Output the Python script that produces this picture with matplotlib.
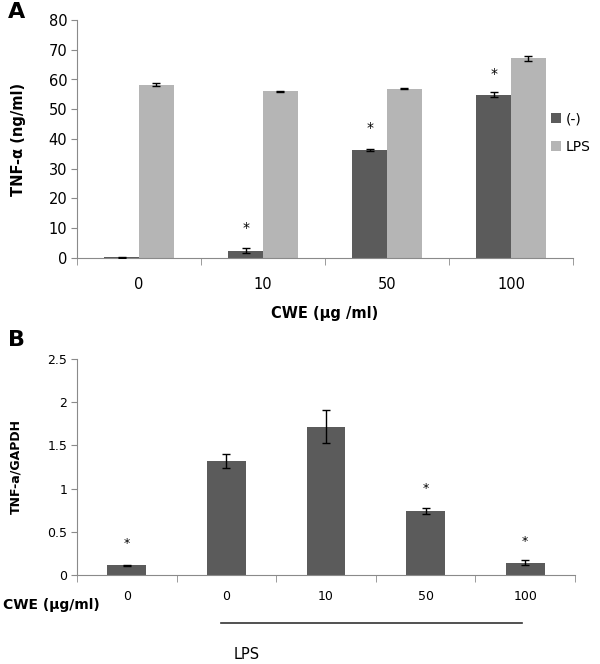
import matplotlib
matplotlib.use("Agg")
import matplotlib.pyplot as plt
import matplotlib.transforms as mtransforms
from matplotlib.lines import Line2D
import numpy as np

plt.rcParams['font.family'] = ['DejaVu Sans']

# Panel A data
a_categories = ["0", "10", "50", "100"]
a_neg = [0.3, 2.5, 36.4, 54.9]
a_neg_err = [0.2, 0.8, 0.4, 0.8]
a_lps = [58.3, 56.0, 56.9, 67.1]
a_lps_err = [0.6, 0.2, 0.2, 0.8]
a_star_idx = [1, 2, 3]
a_star_y = [10.0, 43.7, 62.0]

# Panel B data
b_categories = ["0", "0", "10", "50", "100"]
b_vals = [0.11, 1.32, 1.715, 0.74, 0.14]
b_err = [0.01, 0.08, 0.19, 0.03, 0.03]
b_star_idx = [0, 3, 4]
b_star_y = [0.37, 1.0, 0.39]

dark = "#5b5b5b"
light = "#b5b5b5"
axcol = "#8a8a8a"

fig = plt.figure(figsize=(6.0, 6.64), dpi=100)

# ---------- Panel A ----------
axA = fig.add_axes([77/600, 1-258/664, (573-77)/600, (258-20)/664])
x = np.arange(len(a_categories))
w = 0.28
axA.bar(x - w/2, a_neg, w, color=dark, label="(-)", zorder=2)
axA.bar(x + w/2, a_lps, w, color=light, label="LPS", zorder=2)
axA.errorbar(x - w/2, a_neg, yerr=a_neg_err, fmt='none', ecolor='black',
             elinewidth=1, capsize=3, capthick=1, zorder=3)
axA.errorbar(x + w/2, a_lps, yerr=a_lps_err, fmt='none', ecolor='black',
             elinewidth=1, capsize=3, capthick=1, zorder=3)
for i, yv in zip(a_star_idx, a_star_y):
    axA.text(i - w/2, yv, "*", ha='center', va='center', fontsize=10)
axA.set_xlim(-0.5, len(a_categories) - 0.5)
axA.set_ylim(0, 80)
axA.set_yticks(np.arange(0, 81, 10))
axA.set_xticks(x)
axA.set_xticklabels(a_categories)
axA.set_xticks(np.arange(-0.5, len(a_categories), 1), minor=True)
axA.tick_params(axis='x', which='major', length=0, pad=14, labelsize=10.5)
axA.tick_params(axis='x', which='minor', length=5, color=axcol, direction='out')
axA.tick_params(axis='y', length=4, color=axcol, labelsize=10.5, pad=3)
for s in ['top', 'right']:
    axA.spines[s].set_visible(False)
for s in ['left', 'bottom']:
    axA.spines[s].set_color(axcol)
axA.set_ylabel("TNF-α (ng/ml)", fontsize=10.5, fontweight='bold', labelpad=16)
axA.set_xlabel("CWE (μg /ml)", fontsize=10.5, fontweight='bold', labelpad=10)
fig.legend(loc='center left', bbox_to_anchor=(551/600, 1-133/664), frameon=False,
           fontsize=10, handlelength=0.7, handleheight=0.7, handletextpad=0.35,
           labelspacing=1.0, borderaxespad=0, borderpad=0)
fig.text(8/600, 1-12/664, "A", fontsize=16, fontweight='bold', va='center', ha='left')

# ---------- Panel B ----------
axB = fig.add_axes([77/600, 1-575/664, (575-77)/600, (575-359)/664])
xb = np.arange(len(b_categories))
wb = 0.39
axB.bar(xb, b_vals, wb, color=dark, zorder=2)
axB.errorbar(xb, b_vals, yerr=b_err, fmt='none', ecolor='black',
             elinewidth=1, capsize=3, capthick=1, zorder=3)
for i, yv in zip(b_star_idx, b_star_y):
    axB.text(i, yv, "*", ha='center', va='center', fontsize=9)
axB.set_xlim(-0.5, len(b_categories) - 0.5)
axB.set_ylim(0, 2.5)
axB.set_yticks([0, 0.5, 1, 1.5, 2, 2.5])
axB.set_yticklabels(["0", "0.5", "1", "1.5", "2", "2.5"])
axB.set_xticks(xb)
axB.set_xticklabels(b_categories)
axB.set_xticks(np.arange(-0.5, len(b_categories), 1), minor=True)
axB.tick_params(axis='x', which='major', length=0, pad=11, labelsize=9)
axB.tick_params(axis='x', which='minor', length=5, color=axcol, direction='out')
axB.tick_params(axis='y', length=4, color=axcol, labelsize=9, pad=3)
for s in ['top', 'right']:
    axB.spines[s].set_visible(False)
for s in ['left', 'bottom']:
    axB.spines[s].set_color(axcol)
axB.set_ylabel("TNF-a/GAPDH", fontsize=9, fontweight='bold', labelpad=18)
fig.text(3/600, 1-605/664, "CWE (μg/ml)", fontsize=10, fontweight='bold', va='center', ha='left')
trans = mtransforms.blended_transform_factory(axB.transData, axB.transAxes)
axB.add_line(Line2D([0.95, 3.97], [-0.222, -0.222], transform=trans, color='#333333',
                    lw=1.2, clip_on=False))
axB.text(1.2, -0.370, "LPS", transform=trans, ha='center', va='center', fontsize=10.5)
fig.text(8/600, 1-340/664, "B", fontsize=16, fontweight='bold', va='center', ha='left')

fig.savefig("out.png", dpi=100)
